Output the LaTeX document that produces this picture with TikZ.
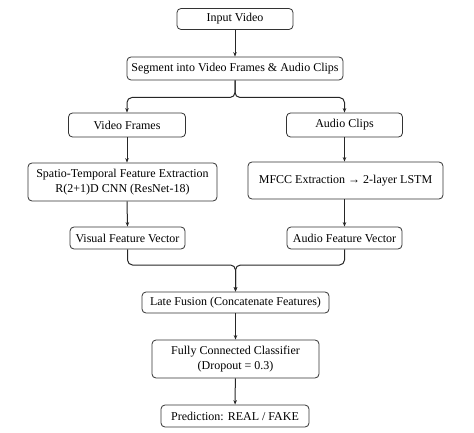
\documentclass[tikz,border=0pt]{standalone}
\usepackage{fontspec}
\setmainfont{Liberation Serif}
\usetikzlibrary{arrows.meta}

\begin{document}
\begin{tikzpicture}[
        x=1pt, y=1pt,
        box/.style={rectangle, rounded corners=4pt, draw=black!80, line width=0.8pt, fill=white,
            minimum height=23pt, inner xsep=4pt, inner ysep=2pt, align=center,
            font=\fontsize{12}{14.5}\selectfont},
        arrow/.style={-{Stealth[length=4.5pt,width=3.5pt]}, line width=1pt, draw=black!85},
        fork/.style={arrow, rounded corners=5pt}
    ]
        \useasboundingbox (0,0) rectangle (474,-433);

        \node[box, minimum width=116pt, minimum height=21pt] (input) at (235,-19) {Input Video};
        \node[box, minimum width=216pt] (seg) at (235,-68.5) {Segment into Video Frames \& Audio Clips};
        \node[box, minimum width=117pt, minimum height=24pt] (video) at (127,-125) {Video Frames};
        \node[box, minimum width=116pt, minimum height=24pt] (audio) at (344.5,-125) {Audio Clips};
        \node[box, minimum width=189pt, minimum height=38pt] (st) at (122.5,-182) {Spatio-Temporal Feature Extraction\\R(2+1)D CNN (ResNet-18)};
        \node[box, minimum width=195pt, minimum height=37pt] (mfcc) at (345.5,-180.5) {MFCC Extraction → 2-layer LSTM};
        \node[box, minimum width=115pt, minimum height=22pt] (visual) at (127.5,-238) {Visual Feature Vector};
        \node[box, minimum width=115pt, minimum height=22pt] (audiofv) at (344.5,-238) {Audio Feature Vector};
        \node[box, minimum width=187pt, minimum height=21pt] (late) at (235.5,-302.5) {Late Fusion (Concatenate Features)};
        \node[box, minimum width=167pt, minimum height=38pt] (fc) at (235.5,-359) {Fully Connected Classifier\\(Dropout = 0.3)};
        \node[box, minimum width=148pt, minimum height=22pt] (pred) at (235,-416) {Prediction: REAL / FAKE};

        \coordinate (split) at (235,-97.5);
        \coordinate (merge) at (235.5,-265);

        \draw[arrow] (input) -- (seg);
        \draw[fork] (seg.south) -- (split) -| (video.north);
        \draw[fork] (seg.south) -- (split) -| (audio.north);
        \draw[arrow] (video.south) -- (video.south |- st.north);
        \draw[arrow] (audio.south) -- (audio.south |- mfcc.north);
        \draw[arrow] (video.south |- st.south) -- (visual.north);
        \draw[arrow] (audio.south |- mfcc.south) -- (audiofv.north);
        \draw[fork] (visual.south) |- (merge) -- (late.north);
        \draw[fork] (audiofv.south) |- (merge) -- (late.north);
        \draw[arrow] (late) -- (fc);
        \draw[arrow] (fc) -- (pred);
    \end{tikzpicture}
\end{document}
